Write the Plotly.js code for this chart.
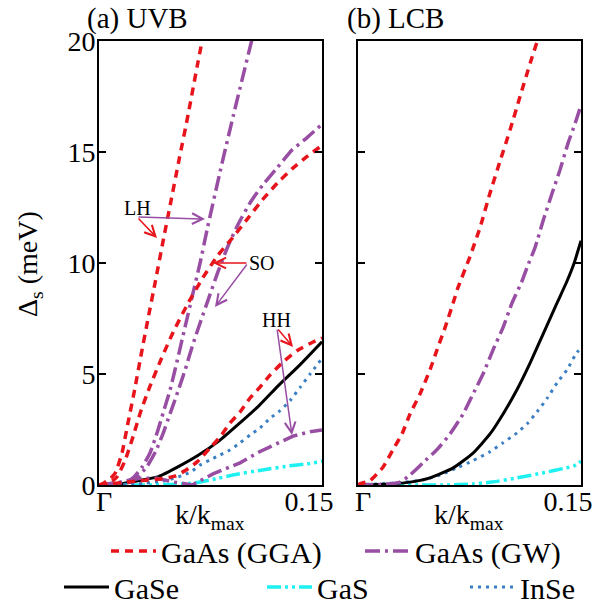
<!DOCTYPE html>
<html><head><meta charset="utf-8">
<script src="https://cdn.plot.ly/plotly-3.0.1.min.js"></script>
<style>html,body{margin:0;padding:0;background:#fff;}</style>
</head><body><div id="chart" style="width:604px;height:604px;"></div>
<script>
// ---------- (a) UVB ----------
const kUvbGgaLH = [0, 0.003, 0.007, 0.011, 0.0155, 0.0195, 0.024, 0.028, 0.033, 0.038, 0.043, 0.048, 0.054, 0.06, 0.066, 0.0705];
const uvbGgaLH  = [0, 0.08, 0.25, 0.55, 1.45, 2.8, 4.3, 5.75, 7.5, 9.2, 10.95, 12.65, 14.7, 16.7, 18.85, 20.4];
const kUvbGgaSO = [0, 0.007, 0.012, 0.0175, 0.023, 0.028, 0.034, 0.042, 0.05, 0.06, 0.07, 0.08, 0.09, 0.1, 0.11, 0.12, 0.13, 0.14, 0.15];
const uvbGgaSO  = [0, 0.09, 0.36, 1.1, 2.2, 3.3, 4.4, 5.7, 6.9, 8.2, 9.35, 10.35, 11.15, 12.0, 12.85, 13.6, 14.25, 14.8, 15.3];
const kUvbGgaHH = [0, 0.0256, 0.041, 0.051, 0.058, 0.066, 0.0747, 0.0814, 0.0881, 0.0949, 0.1016, 0.1083, 0.115, 0.1238, 0.1339, 0.144, 0.15];
const uvbGgaHH  = [0, 0.18, 0.27, 0.4, 0.65, 1.04, 1.67, 2.16, 2.79, 3.29, 3.92, 4.41, 4.95, 5.54, 6.08, 6.44, 6.62];

const kUvbGwLH = [0, 0.0128, 0.0195, 0.0229, 0.029, 0.0343, 0.039, 0.0431, 0.0478, 0.0511, 0.0579, 0.0626, 0.068, 0.0727, 0.0814, 0.0902, 0.103];
const uvbGwLH  = [0, 0.09, 0.18, 0.32, 0.81, 1.44, 2.34, 3.24, 4.28, 5.18, 7.12, 8.47, 10.0, 11.5, 14.1, 16.6, 20.1];
const kUvbGwSO = [0, 0.014, 0.022, 0.026, 0.032, 0.038, 0.043, 0.048, 0.053, 0.058, 0.063, 0.068, 0.074, 0.08, 0.087, 0.094, 0.102, 0.11, 0.12, 0.13, 0.14, 0.15];
const uvbGwSO  = [0, 0.09, 0.15, 0.38, 0.8, 1.5, 2.3, 3.25, 4.2, 5.2, 6.3, 7.3, 8.45, 9.6, 10.8, 11.8, 12.75, 13.5, 14.3, 15.1, 15.65, 16.25];
const kUvbGwHH = [0, 0.014, 0.0276, 0.039, 0.051, 0.0626, 0.0767, 0.0949, 0.108, 0.122, 0.1305, 0.142, 0.15];
const uvbGwHH  = [0, 0.13, 0.3, 0.3, 0.13, 0, 0.5, 1.0, 1.5, 1.95, 2.2, 2.4, 2.48];

const kUvbGaSe = [0, 0.015, 0.027, 0.04, 0.054, 0.067, 0.081, 0.094, 0.108, 0.121, 0.135, 0.15];
const uvbGaSe  = [0, 0.05, 0.2, 0.38, 0.85, 1.35, 2.0, 2.75, 3.6, 4.5, 5.4, 6.45];
const kUvbGaS  = [0, 0.03, 0.05, 0.065, 0.08, 0.09, 0.11, 0.13, 0.14, 0.15];
const uvbGaS   = [0, 0, 0.03, 0.1, 0.3, 0.45, 0.68, 0.88, 0.95, 1.07];
const kUvbInSe = [0, 0.025, 0.045, 0.057, 0.063, 0.068, 0.0747, 0.0814, 0.0881, 0.0949, 0.1016, 0.1083, 0.115, 0.1218, 0.1285, 0.1353, 0.142, 0.15];
const uvbInSe  = [0, 0.05, 0.2, 0.45, 0.65, 0.9, 1.13, 1.35, 1.58, 1.9, 2.25, 2.57, 3.0, 3.35, 3.8, 4.4, 5.0, 5.7];

// ---------- (b) LCB ----------
const kLcbGga = [0, 0.0013, 0.0081, 0.0168, 0.0236, 0.0296, 0.035, 0.0417, 0.0485, 0.0532, 0.0586, 0.064, 0.0673, 0.0754, 0.0821, 0.0888, 0.0956, 0.1023, 0.109, 0.1158, 0.1211];
const lcbGga  = [0, 0.05, 0.2, 0.8, 1.6, 2.3, 3.2, 4.1, 5.2, 6.1, 7.1, 8.2, 8.9, 10.3, 11.6, 13.15, 14.6, 16.0, 17.5, 19.0, 20.1];
const kLcbGw  = [0, 0.0215, 0.0283, 0.035, 0.0437, 0.0532, 0.0619, 0.0707, 0.0774, 0.0841, 0.0909, 0.0976, 0.1036, 0.1104, 0.1137, 0.1191, 0.1245, 0.1306, 0.1359, 0.1413, 0.1461, 0.15];
const lcbGw   = [0, 0.05, 0.13, 0.45, 1.0, 1.6, 2.3, 3.2, 4.1, 5.0, 6.1, 7.1, 8.2, 9.2, 9.8, 10.7, 11.9, 13.15, 14.2, 15.4, 16.3, 17.1];
const kLcbGaSe = [0, 0.0215, 0.035, 0.0485, 0.064, 0.0774, 0.0888, 0.0976, 0.107, 0.1158, 0.1245, 0.1339, 0.1407, 0.1454, 0.15];
const lcbGaSe  = [0, 0.05, 0.13, 0.32, 0.77, 1.44, 2.3, 3.2, 4.3, 5.5, 6.8, 8.2, 9.2, 10.0, 11.0];
const kLcbGaS  = [0, 0.06, 0.077, 0.09, 0.107, 0.124, 0.14, 0.145, 0.15];
const lcbGaS   = [0, 0, 0.05, 0.13, 0.32, 0.54, 0.77, 0.85, 1.07];
const kLcbInSe = [0, 0.0148, 0.0303, 0.0437, 0.0552, 0.0666, 0.0774, 0.0888, 0.0976, 0.107, 0.1137, 0.1205, 0.1272, 0.1339, 0.1407, 0.1461, 0.15];
const lcbInSe  = [0.02, 0.05, 0.12, 0.23, 0.45, 0.77, 1.1, 1.5, 1.9, 2.35, 2.75, 3.3, 3.9, 4.6, 5.2, 5.85, 6.2];

const xTickText = ['Γ', '0.15'];
const yTickVals = [0, 5, 10, 15, 20];
const seriesNames = ['GaAs (GGA)', 'GaAs (GW)', 'GaSe', 'GaS', 'InSe'];

const FONT = 'Liberation Serif';
const ST = {
  gga:  {color:'#e8141c', width:3.5, dash:'8px,6px'},
  gw:   {color:'#984ea3', width:3.5, dash:'15px,5px,3px,5px'},
  gase: {color:'#000000', width:3,   dash:'solid'},
  gas:  {color:'#1ff0f0', width:3.5, dash:'14px,4px,3px,4px,3px,4px'},
  inse: {color:'#3a7fc4', width:3,   dash:'3px,5px'}
};
function tr(x, y, st, side, name, show, legend, shape) {
  return {x:x, y:y, type:'scatter', mode:'lines',
    line:Object.assign({}, st, {shape: shape || 'spline', smoothing:0.5}),
    xaxis: side === 'r' ? 'x2' : 'x', yaxis: side === 'r' ? 'y2' : 'y',
    name:name, showlegend:show, legend:legend, legendgroup:name, hoverinfo:'skip'};
}
const data = [
  tr(kUvbGaSe, uvbGaSe, ST.gase, 'l', seriesNames[2], true, 'legend2'),
  tr(kUvbGaS,  uvbGaS,  ST.gas,  'l', seriesNames[3], true, 'legend2'),
  tr(kUvbInSe, uvbInSe, ST.inse, 'l', seriesNames[4], true, 'legend2'),
  tr(kUvbGwLH, uvbGwLH, ST.gw, 'l', seriesNames[1], false, 'legend'),
  tr(kUvbGwSO, uvbGwSO, ST.gw, 'l', seriesNames[1], false, 'legend'),
  tr(kUvbGwHH, uvbGwHH, ST.gw, 'l', seriesNames[1], false, 'legend', 'linear'),
  tr(kUvbGgaLH, uvbGgaLH, ST.gga, 'l', seriesNames[0], true, 'legend'),
  tr(kUvbGgaSO, uvbGgaSO, ST.gga, 'l', seriesNames[0], false, 'legend'),
  tr(kUvbGgaHH, uvbGgaHH, ST.gga, 'l', seriesNames[0], false, 'legend'),
  tr(kLcbGaS,  lcbGaS,  ST.gas,  'r', seriesNames[3], false, 'legend2'),
  tr(kLcbInSe, lcbInSe, ST.inse, 'r', seriesNames[4], false, 'legend2'),
  tr(kLcbGaSe, lcbGaSe, ST.gase, 'r', seriesNames[2], false, 'legend2'),
  tr(kLcbGw,  lcbGw,  ST.gw,  'r', seriesNames[1], true, 'legend'),
  tr(kLcbGga, lcbGga, ST.gga, 'r', seriesNames[0], false, 'legend')
];
data.forEach(t => { t.legendrank = seriesNames.indexOf(t.name) + 1; });
data[2].legendwidth = 60;   // last entry of second legend row

const W = 604;
const xBase = {range:[0,0.15], tickvals:[0.0034, 0.1413], ticktext:xTickText, ticks:'',
  showgrid:false, zeroline:false, showline:true, linewidth:2, linecolor:'#000', mirror:true,
  fixedrange:true, tickfont:{size:28, family:FONT}, ticklabelstandoff:-10, automargin:false};
const yBase = {range:[0,20], tickvals:yTickVals, ticks:'inside', ticklen:7, tickwidth:1.5, tickcolor:'#000',
  mirror:'allticks', showline:true, linewidth:2, linecolor:'#000', showgrid:false, zeroline:false,
  fixedrange:true, tickfont:{size:28, family:FONT}, ticklabelstandoff:-4, automargin:false,
  domain:[119/W, 563/W]};

function arrow(x, y, ax, ay, color) {
  return {xref:'x', yref:'y', axref:'x', ayref:'y', x:x, y:y, ax:ax, ay:ay, text:'',
    showarrow:true, arrowhead:5, arrowsize:1.4, arrowwidth:1.5, arrowcolor:color, standoff:0, startstandoff:0};
}
function label(x, y, text) {
  return {xref:'x', yref:'y', x:x, y:y, text:text, showarrow:false, font:{size:20, family:FONT, color:'#000'}};
}
const RED = ST.gga.color, PUR = ST.gw.color;

const layout = {
  width:604, height:604, margin:{l:0, r:0, t:0, b:0, autoexpand:false},
  paper_bgcolor:'#fff', plot_bgcolor:'#fff',
  font:{family:FONT, size:28, color:'#000'},
  xaxis: Object.assign({}, xBase, {domain:[99/W, 322/W], anchor:'y'}),
  yaxis: Object.assign({}, yBase, {anchor:'x'}),
  xaxis2: Object.assign({}, xBase, {domain:[358/W, 581/W], anchor:'y2'}),
  yaxis2: Object.assign({}, yBase, {anchor:'x2', matches:'y', showticklabels:false}),
  legend: {orientation:'h', xref:'container', yref:'container', x:106/W, y:(604-551)/W, xanchor:'left', yanchor:'middle',
    font:{size:30, family:FONT}, itemwidth:45, entrywidth:194, entrywidthmode:'pixels',
    bgcolor:'rgba(0,0,0,0)', borderwidth:0, traceorder:'normal'},
  legend2: {orientation:'h', xref:'container', yref:'container', x:59/W, y:(604-587)/W, xanchor:'left', yanchor:'middle',
    font:{size:30, family:FONT}, itemwidth:45, entrywidth:143, entrywidthmode:'pixels',
    bgcolor:'rgba(0,0,0,0)', borderwidth:0, traceorder:'normal'},
  annotations: [
    {xref:'paper', yref:'paper', x:85/W, y:(604-19)/W, xanchor:'left', yanchor:'middle', text:'(a) UVB', showarrow:false, font:{size:29, family:FONT}},
    {xref:'paper', yref:'paper', x:345/W, y:(604-19)/W, xanchor:'left', yanchor:'middle', text:'(b) LCB', showarrow:false, font:{size:29, family:FONT}},
    {xref:'paper', yref:'paper', x:29/W, y:(604-264)/W, xanchor:'center', yanchor:'middle', textangle:-90, text:'Δ<sub>s</sub> (meV)', showarrow:false, font:{size:28, family:FONT}},
    {xref:'paper', yref:'paper', x:210/W, y:(604-497)/W, xanchor:'center', yanchor:'top', text:'k/k<sub>max</sub>', showarrow:false, font:{size:28, family:FONT}},
    {xref:'paper', yref:'paper', x:469/W, y:(604-497)/W, xanchor:'center', yanchor:'top', text:'k/k<sub>max</sub>', showarrow:false, font:{size:28, family:FONT}},
    label(0.0262, 12.48, 'LH'),
    arrow(0.0713, 11.98, 0.0256, 12.07, PUR),
    arrow(0.0390, 11.13, 0.0256, 12.07, RED),
    label(0.1095, 10.0, 'SO'),
    arrow(0.0767, 10.0, 0.1002, 10.0, RED),
    arrow(0.0780, 8.02, 0.1002, 10.0, PUR),
    label(0.1197, 7.43, 'HH'),
    arrow(0.1305, 6.22, 0.1197, 7.07, RED),
    arrow(0.1298, 2.25, 0.1197, 7.07, PUR)
  ]
};
Plotly.newPlot('chart', data, layout, {staticPlot:true, displayModeBar:false});
</script></body></html>
